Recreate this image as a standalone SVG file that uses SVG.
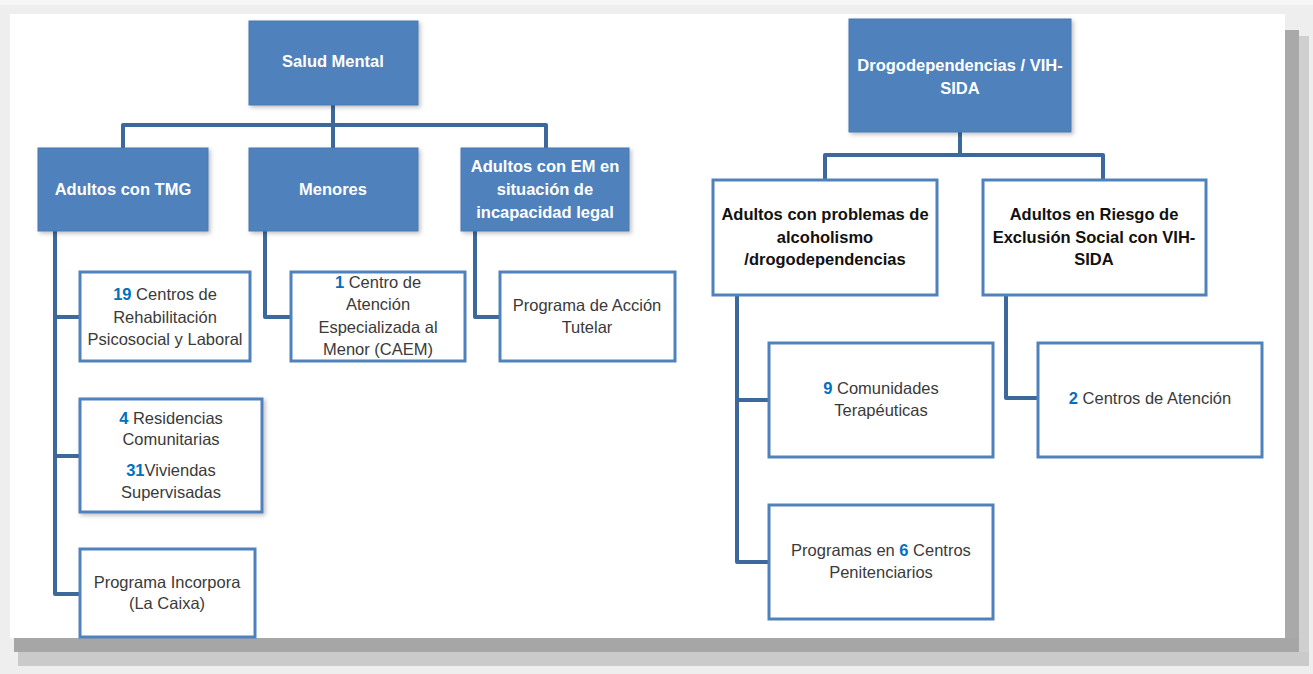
<svg xmlns="http://www.w3.org/2000/svg" width="1313" height="674" viewBox="0 0 1313 674">
<defs>
<style>
.t{font-family:"Liberation Sans",Arial,sans-serif;font-size:16.5px;text-anchor:middle;fill:#3a3a3a}
.tb{font-family:"Liberation Sans",Arial,sans-serif;font-size:16.5px;text-anchor:middle;font-weight:bold;fill:#111}
.tw{font-family:"Liberation Sans",Arial,sans-serif;font-size:16.5px;text-anchor:middle;font-weight:bold;fill:#fff}
.n{fill:#0070c0;font-weight:bold}
.bx{fill:#4f81bd;stroke:#4a79b2;stroke-width:1}
.wb{fill:#fff;stroke:#4f81bd;stroke-width:3}
.c{fill:none;stroke:#3d689c;stroke-width:4;stroke-linejoin:round}
</style>
<filter id="sh" x="-10%" y="-10%" width="130%" height="130%">
<feDropShadow dx="2" dy="2" stdDeviation="2" flood-color="#000" flood-opacity="0.25"/>
</filter>
</defs>
<rect x="0" y="0" width="1313" height="674" fill="#eeeeee"/>
<rect x="0" y="0" width="1313" height="5" fill="#f6f6f6"/>
<rect x="1285" y="30" width="14" height="622" fill="#a9a9a9"/>
<rect x="1299" y="36" width="10" height="630" fill="#cfcfcf"/>
<rect x="14" y="638" width="1285" height="14" fill="#a6a6a6"/>
<rect x="18" y="652" width="1291" height="14" fill="#cacaca"/>
<rect x="10" y="14" width="1275" height="624" fill="#ffffff"/>

<g id="connectors">
<path class="c" d="M333,105 V125 M123,148 V125 H546 V148 M333,125 V148"/>
<path class="c" d="M55,231 V594 H80 M55,317 H80 M55,456 H80"/>
<path class="c" d="M265,231 V317 H291"/>
<path class="c" d="M475,231 V317 H500"/>
<path class="c" d="M960,132 V155 M825,180 V155 H1103 V180"/>
<path class="c" d="M737,295 V562 H769 M737,400 H769"/>
<path class="c" d="M1006,295 V398 H1038"/>
</g>

<g id="salud-mental">
<rect class="bx" x="249" y="21" width="169" height="84" filter="url(#sh)"/>
<text class="tw" x="333" y="67">Salud Mental</text>
</g>
<g id="adultos-tmg">
<rect class="bx" x="38" y="148" width="170" height="83" filter="url(#sh)"/>
<text class="tw" x="123" y="195">Adultos con TMG</text>
</g>
<g id="menores">
<rect class="bx" x="249" y="148" width="169" height="83" filter="url(#sh)"/>
<text class="tw" x="333" y="195">Menores</text>
</g>
<g id="adultos-em">
<rect class="bx" x="461" y="148" width="168" height="83" filter="url(#sh)"/>
<text class="tw" x="545" y="172">Adultos con EM en</text>
<text class="tw" x="545" y="195">situación de</text>
<text class="tw" x="545" y="218">incapacidad  legal</text>
</g>
<g id="centros-rehab">
<rect class="wb" x="80" y="272" width="170" height="89"/>
<text class="t" x="165" y="300"><tspan class="n">19</tspan> Centros de</text>
<text class="t" x="165" y="323">Rehabilitación</text>
<text class="t" x="165" y="345">Psicosocial y Laboral</text>
</g>
<g id="residencias">
<rect class="wb" x="80" y="399" width="182" height="113" filter="url(#sh)"/>
<text class="t" x="171" y="424"><tspan class="n">4</tspan> Residencias</text>
<text class="t" x="171" y="445">Comunitarias</text>
<text class="t" x="171" y="476"><tspan class="n">31</tspan>Viviendas</text>
<text class="t" x="171" y="498">Supervisadas</text>
</g>
<g id="incorpora">
<rect class="wb" x="80" y="549" width="175" height="88"/>
<text class="t" x="167" y="588">Programa Incorpora</text>
<text class="t" x="167" y="609">(La Caixa)</text>
</g>
<g id="caem">
<rect class="wb" x="291" y="272" width="174" height="89"/>
<text class="t" x="378" y="288"><tspan class="n">1</tspan> Centro de</text>
<text class="t" x="378" y="310">Atención</text>
<text class="t" x="378" y="333">Especializada al</text>
<text class="t" x="378" y="355">Menor (CAEM)</text>
</g>
<g id="tutelar">
<rect class="wb" x="500" y="272" width="175" height="89"/>
<text class="t" x="587" y="311">Programa de Acción</text>
<text class="t" x="587" y="333">Tutelar</text>
</g>

<g id="drogodependencias">
<rect class="bx" x="849" y="19" width="222" height="113" filter="url(#sh)"/>
<text class="tw" x="960" y="71">Drogodependencias / VIH-</text>
<text class="tw" x="960" y="94">SIDA</text>
</g>
<g id="adultos-alcohol">
<rect class="wb" x="713" y="180" width="224" height="115"/>
<text class="tb" x="825" y="220">Adultos con problemas de</text>
<text class="tb" x="825" y="243">alcoholismo</text>
<text class="tb" x="825" y="265">/drogodependencias</text>
</g>
<g id="adultos-vih">
<rect class="wb" x="983" y="180" width="223" height="115"/>
<text class="tb" x="1094" y="220">Adultos en Riesgo de</text>
<text class="tb" x="1094" y="243">Exclusión Social con VIH-</text>
<text class="tb" x="1094" y="265">SIDA</text>
</g>
<g id="comunidades">
<rect class="wb" x="769" y="343" width="224" height="114"/>
<text class="t" x="881" y="394"><tspan class="n">9</tspan> Comunidades</text>
<text class="t" x="881" y="416">Terapéuticas</text>
</g>
<g id="penitenciarios">
<rect class="wb" x="769" y="505" width="224" height="114"/>
<text class="t" x="881" y="556">Programas en <tspan class="n">6</tspan> Centros</text>
<text class="t" x="881" y="578">Penitenciarios</text>
</g>
<g id="centros-atencion">
<rect class="wb" x="1038" y="343" width="224" height="114"/>
<text class="t" x="1150" y="404"><tspan class="n">2</tspan> Centros de Atención</text>
</g>
</svg>
